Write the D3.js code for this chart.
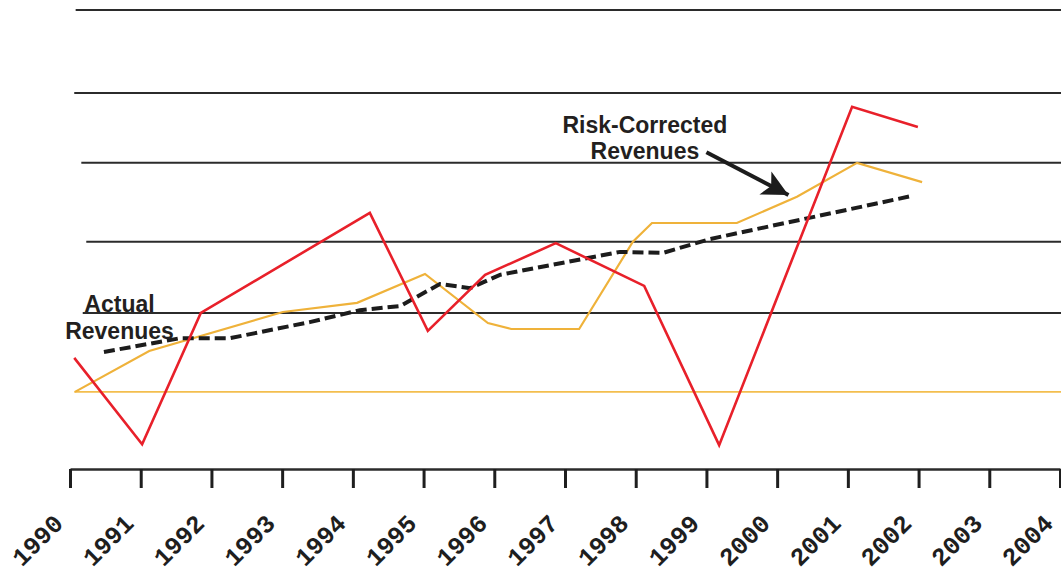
<!DOCTYPE html>
<html>
<head>
<meta charset="utf-8">
<script src="https://cdn.jsdelivr.net/npm/d3@7"></script>
<style>
  html, body { margin: 0; padding: 0; background: #fff; }
  svg { display: block; }
</style>
</head>
<body>
<svg id="chart" width="1061" height="576"></svg>
<script>
// ---- data ----
const years = [1990, 1991, 1992, 1993, 1994, 1995, 1996, 1997, 1998, 1999, 2000, 2001, 2002, 2003, 2004];
const tickLabels = years.map(String);

// horizontal reference lines (value, start year)
const gridValues = [100, 81.9, 66.7, 49.5, 34.0];
const gridStarts = [1990.08, 1990.06, 1990.16, 1990.23, 1990.18];
const baselineValue = 16.8;

// Actual revenues (red)
const actualX = [1990.06, 1991.02, 1991.85, 1994.24, 1995.06, 1995.87, 1996.87, 1998.12, 1999.18, 2001.06, 2001.99];
const actualY = [24.2, 5.4, 34.0, 55.8, 30.1, 42.3, 49.2, 39.9, 5.2, 78.9, 74.5];

// Risk-corrected revenues (orange)
const riskX = [1990.07, 1991.12, 1993.01, 1994.06, 1995.02, 1995.91, 1996.24, 1997.2, 1997.96, 1998.23, 1999.43, 2000.28, 2001.13, 2002.05];
const riskY = [16.8, 25.7, 34.2, 36.2, 42.5, 31.8, 30.5, 30.5, 49.5, 53.6, 53.6, 59.3, 66.7, 62.5];

// trend (black dashed)
const trendX = [1990.48, 1991.56, 1992.26, 1993.39, 1994.1, 1994.67, 1995.23, 1995.66, 1996.08, 1997.78, 1998.39, 1999.05, 2001.91];
const trendY = [25.5, 28.5, 28.5, 32.0, 34.6, 35.5, 40.3, 39.4, 42.3, 47.3, 47.1, 50.1, 59.5];

// ---- drawing ----
const svg = d3.select("#chart");
const x = d3.scaleLinear().domain([1990, 2004]).range([70, 1060]);
const y = d3.scaleLinear().domain([0, 100]).range([469, 10]);

// grid lines
svg.append("g").selectAll("line").data(gridValues).join("line")
  .attr("x1", (d, i) => x(gridStarts[i])).attr("x2", 1061)
  .attr("y1", d => y(d)).attr("y2", d => y(d))
  .attr("stroke", "#2b2b2b").attr("stroke-width", 2);

// orange baseline
svg.append("line")
  .attr("x1", x(1990.06)).attr("x2", 1061)
  .attr("y1", y(baselineValue)).attr("y2", y(baselineValue))
  .attr("stroke", "#f3be4e").attr("stroke-width", 1.6);

// x axis
const axis = d3.axisBottom(x).tickValues(years).tickFormat((d, i) => tickLabels[i])
  .tickSize(19).tickSizeOuter(0);
const gx = svg.append("g").attr("transform", `translate(0,${y(0)})`).call(axis);
gx.select(".domain").attr("stroke", "#2b2b2b").attr("stroke-width", 2.5);
gx.selectAll(".tick line").attr("stroke", "#1e1e1e").attr("stroke-width", 3);
gx.selectAll(".tick text")
  .attr("x", 0).attr("y", 0).attr("dy", 0)
  .attr("text-anchor", "end")
  .attr("transform", "translate(-6,56) rotate(-45)")
  .attr("font-family", "'Liberation Mono', 'Courier New', monospace")
  .attr("font-weight", "bold")
  .attr("font-size", 25)
  .attr("fill", "#1e1e1e");

const line = d3.line().x(d => x(d[0])).y(d => y(d[1]));

// orange risk-corrected
svg.append("path").datum(d3.zip(riskX, riskY))
  .attr("d", line).attr("fill", "none")
  .attr("stroke", "#efb23a").attr("stroke-width", 2.2).attr("stroke-linejoin", "miter");

// black dashed trend
svg.append("path").datum(d3.zip(trendX, trendY))
  .attr("d", line).attr("fill", "none")
  .attr("stroke", "#1c1c1c").attr("stroke-width", 4)
  .attr("stroke-dasharray", "11,5");

// red actual
svg.append("path").datum(d3.zip(actualX, actualY))
  .attr("d", line).attr("fill", "none")
  .attr("stroke", "#e8202a").attr("stroke-width", 2.6).attr("stroke-linejoin", "miter");

// annotations
const font = "'Liberation Sans', Arial, sans-serif";
const ann = svg.append("g").attr("font-family", font).attr("font-weight", "bold")
  .attr("font-size", 23).attr("fill", "#231f20").attr("text-anchor", "middle");
ann.append("text").attr("x", x(1990.7)).attr("y", y(34.2)).text("Actual");
ann.append("text").attr("x", x(1990.7)).attr("y", y(28.4)).text("Revenues");
ann.append("text").attr("x", x(1998.13)).attr("y", y(73.2)).text("Risk-Corrected");
ann.append("text").attr("x", x(1998.13)).attr("y", y(67.5)).text("Revenues");

// arrow
svg.append("defs").append("marker")
  .attr("id", "ah").attr("viewBox", "0 0 10 10").attr("refX", 10).attr("refY", 5)
  .attr("markerWidth", 9).attr("markerHeight", 6.5).attr("markerUnits", "strokeWidth")
  .attr("orient", "auto")
  .append("path").attr("d", "M0,0 L10,5 L0,10 L2.5,5 Z").attr("fill", "#1c1c1c");
svg.append("line")
  .attr("x1", x(1999.0)).attr("y1", y(69.0))
  .attr("x2", x(2000.16)).attr("y2", y(59.7))
  .attr("stroke", "#1c1c1c").attr("stroke-width", 4)
  .attr("marker-end", "url(#ah)");
</script>
</body>
</html>
